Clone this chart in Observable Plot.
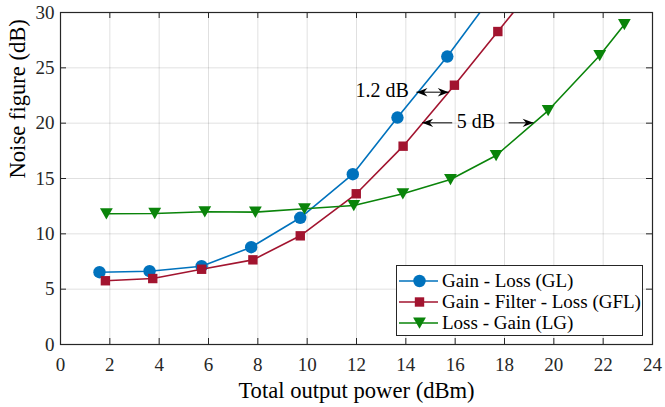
<!DOCTYPE html>
<html><head><meta charset="utf-8">
<script src="https://cdn.jsdelivr.net/npm/d3@7"></script>
<script src="https://cdn.jsdelivr.net/npm/@observablehq/plot@0.6"></script>
<style>
html,body{margin:0;padding:0;background:#fff;}
#chart{position:relative;width:665px;height:407px;font-family:"Liberation Serif","Times New Roman",serif;}
#chart svg{display:block;}
</style></head><body><div id="chart"></div>
<script>
// ---- data ----
const xTicks = [0,2,4,6,8,10,12,14,16,18,20,22,24];
const yTicks = [0,5,10,15,20,25,30];
const seriesNames = ["Gain - Loss (GL)", "Gain - Filter - Loss (GFL)", "Loss - Gain (LG)"];
const glX = [1.58, 3.61, 5.72, 7.73, 9.72, 11.85, 13.66, 15.68, 17.7];
const glY = [6.53, 6.62, 7.07, 8.79, 11.45, 15.39, 20.51, 26.02, 32.1];
const gflX = [1.82, 3.74, 5.72, 7.80, 9.72, 11.99, 13.89, 15.97, 17.73, 19.7];
const gflY = [5.76, 5.96, 6.80, 7.65, 9.82, 13.62, 17.92, 23.43, 28.28, 33.7];
const lgX = [1.86, 3.82, 5.85, 7.90, 9.89, 11.89, 13.88, 15.81, 17.66, 19.77, 21.86, 22.86];
const lgY = [11.81, 11.84, 11.99, 11.96, 12.26, 12.56, 13.62, 14.91, 17.08, 21.14, 26.11, 28.91];
// annotations
const annText = ["1.2 dB", "5 dB"];
const annX = [14.12, 16.84];
const annY = [22.92, 20.16];
const arrowX1 = [14.43, 14.66, 18.17];
const arrowX2 = [15.74, 15.88, 19.18];
const arrowY = [22.8, 20.03, 20.03];
const headX = [14.43, 15.74, 14.66, 19.18];
const headY = [22.8, 22.8, 20.03, 20.03];
const headDir = [-1, 1, -1, 1];

// ---- styling ----
const colors = ["#0072BD", "#A2142F", "#0A840A"];
const W = 665, H = 407, mL = 60, mR = 13, mT = 12, mB = 63;
const innerW = W - mL - mR, innerH = H - mT - mB;
const triDown = {draw(ctx){ ctx.moveTo(-6.4,-5.6); ctx.lineTo(6.4,-5.6); ctx.lineTo(0,5.8); ctx.closePath(); }};
const arrowHead = {draw(ctx){ ctx.moveTo(0,0); ctx.lineTo(4.2,11); ctx.lineTo(0,7.5); ctx.lineTo(-4.2,11); ctx.closePath(); }};
const symbols = ["circle", "square", triDown];
const radii = [6.2, 5.3, 5];

const series = [
  glX.map((x,i)=>({x, y: glY[i]})),
  gflX.map((x,i)=>({x, y: gflY[i]})),
  lgX.map((x,i)=>({x, y: lgY[i]}))
];
const ann = annText.map((t,i)=>({t, x: annX[i], y: annY[i]}));
const segs = arrowX1.map((x1,i)=>({x1, x2: arrowX2[i], y: arrowY[i]}));
const heads = headX.map((x,i)=>({x, y: headY[i], r: headDir[i] * 90}));

const marks = [
  Plot.gridX(xTicks, {stroke: "#000", strokeOpacity: 0.12, strokeWidth: 1}),
  Plot.gridY(yTicks, {stroke: "#000", strokeOpacity: 0.12, strokeWidth: 1}),
];
series.forEach((s, k) => {
  marks.push(Plot.line(s, {x: "x", y: "y", stroke: colors[k], strokeWidth: 1.6, clip: true}));
  marks.push(Plot.dot(s, {x: "x", y: "y", symbol: symbols[k], r: radii[k], fill: colors[k], stroke: "none", clip: true}));
});
marks.push(
  Plot.link(segs, {x1: "x1", x2: "x2", y1: "y", y2: "y", stroke: "#000", strokeWidth: 1}),
  Plot.dot(heads, {x: "x", y: "y", rotate: "r", symbol: arrowHead, fill: "#000", stroke: "none", r: 5}),
  Plot.text(ann.slice(0,1), {x: "x", y: "y", text: "t", textAnchor: "end", lineAnchor: "middle", fontSize: 20, fill: "#000"}),
  Plot.text(ann.slice(1), {x: "x", y: "y", text: "t", textAnchor: "middle", lineAnchor: "middle", fontSize: 20, fill: "#000"}),
  // inward ticks on all four sides
  Plot.ruleX(xTicks, {x: d => d, insetTop: innerH - 6, stroke: "#262626"}),
  Plot.ruleX(xTicks, {x: d => d, insetBottom: innerH - 6, stroke: "#262626"}),
  Plot.ruleY(yTicks, {y: d => d, insetRight: innerW - 6, stroke: "#262626"}),
  Plot.ruleY(yTicks, {y: d => d, insetLeft: innerW - 6, stroke: "#262626"}),
  Plot.frame({stroke: "#262626", strokeWidth: 1.2}),
  Plot.axisX(xTicks, {tickSize: 0, tickPadding: 12.5, fontSize: 19, label: null, fill: "#262626"}),
  Plot.axisY(yTicks, {tickSize: 0, tickPadding: 6, fontSize: 19, label: null, fill: "#262626"}),
  Plot.text(["Total output power (dBm)"], {frameAnchor: "bottom", dy: 46, text: d => d, fontSize: 22.6, lineAnchor: "middle", fill: "#000"}),
  Plot.text(["Noise figure (dB)"], {frameAnchor: "left", dx: -43, rotate: -90, text: d => d, fontSize: 22.6, lineAnchor: "middle", fill: "#000"})
);

const chart = Plot.plot({
  width: W, height: H,
  marginLeft: mL, marginRight: mR, marginTop: mT, marginBottom: mB,
  style: {fontFamily: '"Liberation Serif","Times New Roman",serif', background: "#fff", overflow: "visible"},
  x: {domain: [0, 24]},
  y: {domain: [0, 30]},
  marks
});
const root = document.getElementById("chart");
root.appendChild(chart);

// ---- legend (overlay inside the axes) ----
const lg = d3.select(root).append("div")
  .style("position", "absolute").style("left", "396px").style("top", "265px")
  .style("width", "247px").style("height", "71px").style("box-sizing", "border-box")
  .style("border", "1px solid #262626").style("background", "#fff");
const lsvg = lg.append("svg").attr("width", 245).attr("height", 69).style("display", "block");
seriesNames.forEach((name, k) => {
  const cy = 15 + k * 21;
  const g = lsvg.append("g");
  g.append("line").attr("x1", 2).attr("x2", 41).attr("y1", cy).attr("y2", cy)
    .attr("stroke", colors[k]).attr("stroke-width", 1.6);
  const sym = typeof symbols[k] === "string" ? (symbols[k] === "circle" ? d3.symbolCircle : d3.symbolSquare) : symbols[k];
  g.append("path").attr("d", d3.symbol(sym, Math.PI * radii[k] * radii[k])())
    .attr("transform", `translate(22.5,${cy})`).attr("fill", colors[k]);
  g.append("text").attr("x", 45).attr("y", cy).attr("dy", "0.33em")
    .attr("font-size", 19).attr("fill", "#000").text(name);
});
</script>
</body></html>
